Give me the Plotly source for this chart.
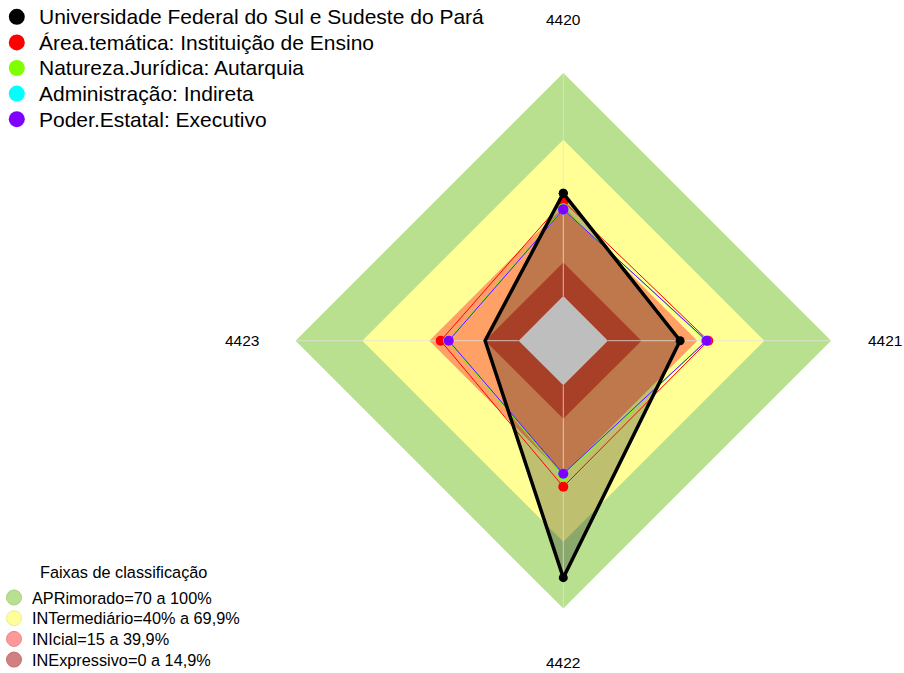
import plotly.graph_objects as go

# ---- data -------------------------------------------------------------
categories = ["4420", "4421", "4422", "4423"]

series_names = [
    "Universidade Federal do Sul e Sudeste do Pará",
    "Área.temática: Instituição de Ensino",
    "Natureza.Jurídica: Autarquia",
    "Administração: Indireta",
    "Poder.Estatal: Executivo",
]
unifesspa = [46.0, 32.3, 86.1, 15.0]
area_tematica = [42.5, 44.9, 45.4, 34.9]
natureza_juridica = [39.2, 43.8, 40.8, 31.6]
administracao = [38.8, 44.2, 39.6, 31.3]
poder_estatal = [38.8, 44.2, 39.6, 31.3]
series_values = [unifesspa, area_tematica, natureza_juridica, administracao, poder_estatal]
series_colors = ["#000000", "#FF0000", "#80FF00", "#00FFFF", "#8000FF"]

legend_title = "Faixas de classificação"
band_names = [
    "APRimorado=70 a 100%",
    "INTermediário=40% a 69,9%",
    "INIcial=15 a 39,9%",
    "INExpressivo=0 a 14,9%",
]
band_upper = [100, 70, 40, 15]
band_fill = ["#B8E08F", "#FFFF96", "#FFA066", "#E05535"]
band_legend = ["#B8E090", "#FFFF99", "#FF9999", "#D08080"]
band_legend_edge = ["#A8D080", "#EEEE88", "#EE8888", "#C07070"]

RADIAL_MIN, RADIAL_MAX = -20, 100

# ---- page geometry (pixels) -------------------------------------------
W, H = 904, 673
CX, CY, R = 563.3, 340.7, 268.0
FONT = "Liberation Sans, Arial, sans-serif"


def px_x(x):
    return x / W


def px_y(y):
    return 1 - y / H


closed = categories + categories[:1]

fig = go.Figure()

# classification bands, outermost first
for upper, color in zip(band_upper, band_fill):
    fig.add_trace(go.Scatterpolar(
        r=[upper] * len(categories), theta=categories, mode="lines",
        fill="toself", fillcolor=color, line=dict(width=0, color=color),
        hoverinfo="skip", showlegend=False,
    ))

# shaded area of the institution
fig.add_trace(go.Scatterpolar(
    r=unifesspa, theta=categories, mode="lines", fill="toself",
    fillcolor="rgba(0,0,0,0.25)", line=dict(width=0, color="rgba(0,0,0,0)"),
    hoverinfo="skip", showlegend=False,
))

# spokes
for c in categories:
    fig.add_trace(go.Scatterpolar(
        r=[0, RADIAL_MAX], theta=[c, c], mode="lines",
        line=dict(color="rgba(225,225,225,0.75)", width=1),
        hoverinfo="skip", showlegend=False,
    ))

# grey centre
fig.add_trace(go.Scatterpolar(
    r=[0] * len(categories), theta=categories, mode="lines", fill="toself",
    fillcolor="#BEBEBE", line=dict(width=0, color="#BEBEBE"),
    hoverinfo="skip", showlegend=False,
))

# comparison series, then the institution on top
order = [1, 2, 3, 4, 0]
for i in order:
    vals = series_values[i]
    is_main = i == 0
    fig.add_trace(go.Scatterpolar(
        r=vals + vals[:1], theta=closed, mode="lines+markers",
        name=series_names[i],
        line=dict(color=series_colors[i], width=3.5 if is_main else 1),
        marker=dict(color=series_colors[i], size=9 if is_main else 10),
        showlegend=False,
    ))

# ---- axis labels ------------------------------------------------------
annotations = []
label_r = 1.2 * R
dirs = [(0, -1), (1, 0), (0, 1), (-1, 0)]
for c, (dx, dy) in zip(categories, dirs):
    annotations.append(dict(
        x=px_x(CX + dx * label_r), y=px_y(CY + dy * label_r),
        xref="paper", yref="paper", text=c, showarrow=False,
        xanchor="center", yanchor="middle",
        font=dict(family=FONT, size=15.5, color="#000000"),
    ))

shapes = []

# ---- series legend (top left) -----------------------------------------
top_y0, top_step, top_mx, top_tx, top_d = 16.8, 25.6, 16.8, 37.0, 16.0
for k, (name, color) in enumerate(zip(series_names, series_colors)):
    y = top_y0 + k * top_step
    shapes.append(dict(
        type="circle", xref="paper", yref="paper",
        x0=px_x(top_mx - top_d / 2), x1=px_x(top_mx + top_d / 2),
        y0=px_y(y + top_d / 2), y1=px_y(y - top_d / 2),
        fillcolor=color, line=dict(width=0),
    ))
    annotations.append(dict(
        x=px_x(top_tx), y=px_y(y), xref="paper", yref="paper",
        text=name, showarrow=False, xanchor="left", yanchor="middle",
        font=dict(family=FONT, size=21, color="#000000"),
    ))

# ---- band legend (bottom left) ----------------------------------------
annotations.append(dict(
    x=px_x(124), y=px_y(571.7), xref="paper", yref="paper",
    text=legend_title, showarrow=False, xanchor="center", yanchor="middle",
    font=dict(family=FONT, size=16.3, color="#000000"),
))
bot_y0, bot_step, bot_mx, bot_tx, bot_d = 597.5, 20.7, 14.0, 29.5, 15.0
for k, (name, color, edge) in enumerate(zip(band_names, band_legend, band_legend_edge)):
    y = bot_y0 + k * bot_step
    shapes.append(dict(
        type="circle", xref="paper", yref="paper",
        x0=px_x(bot_mx - bot_d / 2), x1=px_x(bot_mx + bot_d / 2),
        y0=px_y(y + bot_d / 2), y1=px_y(y - bot_d / 2),
        fillcolor=color, line=dict(width=1, color=edge),
    ))
    annotations.append(dict(
        x=px_x(bot_tx), y=px_y(y), xref="paper", yref="paper",
        text=name, showarrow=False, xanchor="left", yanchor="middle",
        font=dict(family=FONT, size=16.3, color="#000000"),
    ))

fig.update_layout(
    width=W, height=H,
    margin=dict(l=0, r=0, t=0, b=0),
    paper_bgcolor="#FFFFFF", plot_bgcolor="#FFFFFF",
    showlegend=False,
    polar=dict(
        domain=dict(x=[px_x(CX - R), px_x(CX + R)], y=[px_y(CY + R), px_y(CY - R)]),
        bgcolor="rgba(0,0,0,0)",
        gridshape="linear",
        radialaxis=dict(visible=False, range=[RADIAL_MIN, RADIAL_MAX]),
        angularaxis=dict(
            type="category", categoryorder="array", categoryarray=categories,
            rotation=90, direction="clockwise",
            showgrid=False, showline=False, showticklabels=False, ticks="",
        ),
    ),
    annotations=annotations,
    shapes=shapes,
)

fig.write_html("out.html")
